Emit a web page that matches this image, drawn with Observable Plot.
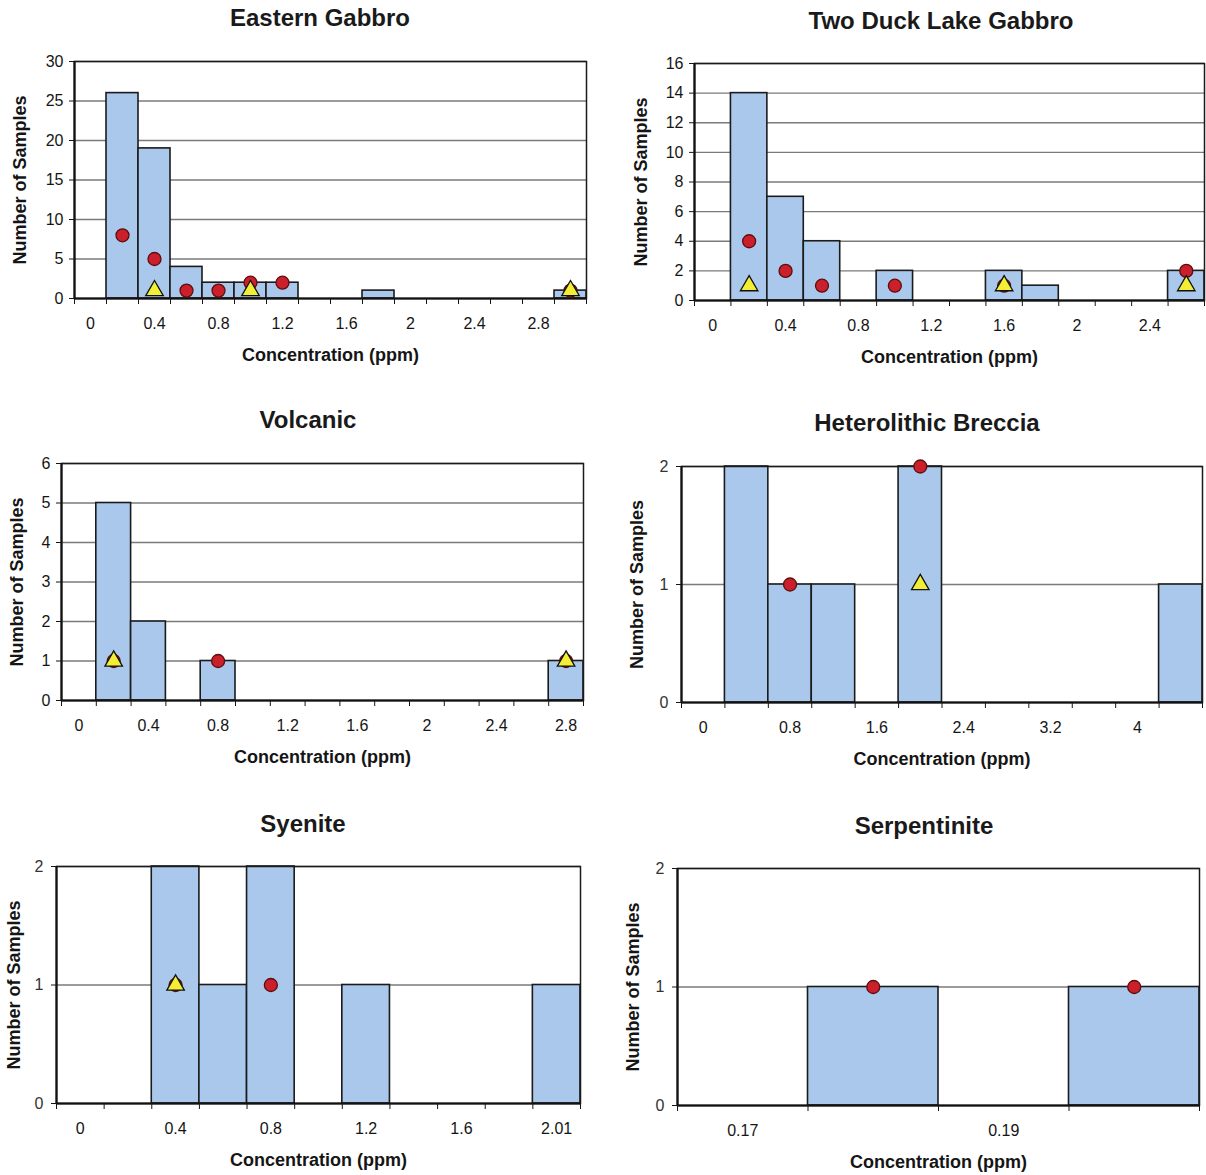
<!DOCTYPE html>
<html><head><meta charset="utf-8">
<script src="https://cdn.jsdelivr.net/npm/d3@7"></script>
<script src="https://cdn.jsdelivr.net/npm/@observablehq/plot@0.6"></script>
<style>
html,body{margin:0;padding:0;background:#fff;width:1206px;height:1175px;overflow:hidden;}
body{position:relative;font-family:"Liberation Sans",Arial,sans-serif;}
.panel{position:absolute;}
.panel svg{max-width:none !important;}
.title{position:absolute;font-weight:bold;font-size:24px;color:#1a1a1a;transform:translateX(-50%);white-space:nowrap;line-height:28px;}
</style></head><body>
<script>
// ---------- data ----------
// Eastern Gabbro
const egBins = ["0","0.2","0.4","0.6","0.8","1","1.2","1.4","1.6","1.8","2","2.2","2.4","2.6","2.8","3"];
const egCounts = [0,26,19,4,2,2,2,0,0,1,0,0,0,0,0,1];
const egCircles = [null,8,5,1,1,2,2,null,null,null,null,null,null,null,null,1];
const egTriangles = [null,null,1,null,null,1,null,null,null,null,null,null,null,null,null,1];
const egYTicks = [0,5,10,15,20,25,30];

// Two Duck Lake Gabbro
const tdBins = ["0","0.2","0.4","0.6","0.8","1","1.2","1.4","1.6","1.8","2","2.2","2.4","2.6"];
const tdCounts = [0,14,7,4,0,2,0,0,2,1,0,0,0,2];
const tdCircles = [null,4,2,1,null,1,null,null,1,null,null,null,null,2];
const tdTriangles = [null,1,null,null,null,null,null,null,1,null,null,null,null,1];
const tdYTicks = [0,2,4,6,8,10,12,14,16];

// Volcanic
const voBins = ["0","0.2","0.4","0.6","0.8","1","1.2","1.4","1.6","1.8","2","2.2","2.4","2.6","2.8"];
const voCounts = [0,5,2,0,1,0,0,0,0,0,0,0,0,0,1];
const voCircles = [null,1,null,null,1,null,null,null,null,null,null,null,null,null,1];
const voTriangles = [null,1,null,null,null,null,null,null,null,null,null,null,null,null,1];
const voYTicks = [0,1,2,3,4,5,6];

// Heterolithic Breccia
const hbBins = ["0","0.4","0.8","1.2","1.6","2","2.4","2.8","3.2","3.6","4","4.4"];
const hbCounts = [0,2,1,1,0,2,0,0,0,0,0,1];
const hbCircles = [null,null,1,null,null,2,null,null,null,null,null,null];
const hbTriangles = [null,null,null,null,null,1,null,null,null,null,null,null];
const hbYTicks = [0,1,2];

// Syenite
const syBins = ["0","0.2","0.4","0.6","0.8","1","1.2","1.4","1.6","1.8","2.01"];
const syCounts = [0,0,2,1,2,0,1,0,0,0,1];
const syCircles = [null,null,1,null,1,null,null,null,null,null,null];
const syTriangles = [null,null,1,null,null,null,null,null,null,null,null];
const syYTicks = [0,1,2];

// Serpentinite
const spBins = ["0.17","0.18","0.19","0.2"];
const spCounts = [0,1,0,1];
const spCircles = [null,1,null,1];
const spTriangles = [null,null,null,null];
const spYTicks = [0,1,2];

// ---------- layout ----------
const panels = [
  {title:"Eastern Gabbro", bins:egBins, counts:egCounts, circles:egCircles, triangles:egTriangles, yTicks:egYTicks,
   left:74, top:61, w:512, h:237, tx:320, ty:4, yOff:61, small:false},
  {title:"Two Duck Lake Gabbro", bins:tdBins, counts:tdCounts, circles:tdCircles, triangles:tdTriangles, yTicks:tdYTicks,
   left:694, top:63, w:510, h:237, tx:941, ty:7, yOff:60, small:false},
  {title:"Volcanic", bins:voBins, counts:voCounts, circles:voCircles, triangles:voTriangles, yTicks:voYTicks,
   left:61, top:463, w:522, h:237, tx:308, ty:406, yOff:51, small:false},
  {title:"Heterolithic Breccia", bins:hbBins, counts:hbCounts, circles:hbCircles, triangles:hbTriangles, yTicks:hbYTicks,
   left:681, top:466, w:521, h:236, tx:927, ty:409, yOff:51, small:true},
  {title:"Syenite", bins:syBins, counts:syCounts, circles:syCircles, triangles:syTriangles, yTicks:syYTicks,
   left:56, top:866, w:524, h:237, tx:303, ty:810, yOff:49, small:true},
  {title:"Serpentinite", bins:spBins, counts:spCounts, circles:spCircles, triangles:spTriangles, yTicks:spYTicks,
   left:677, top:868, w:522, h:237, tx:924, ty:812, yOff:51, small:true}
];

const mL = 75, mR = 10, mT = 14, mB = 80;

for (const p of panels) {
  const n = p.bins.length;
  const idx = d3.range(n);
  const bars = idx.filter(i => p.counts[i] > 0).map(i => ({i, v: p.counts[i]}));
  const circ = idx.filter(i => p.circles[i] != null).map(i => ({i, v: p.circles[i]}));
  const tri = idx.filter(i => p.triangles[i] != null).map(i => ({i, v: p.triangles[i]}));
  const labelPos = idx.filter(i => i % 2 === 0).map(i => i + 0.5);
  const yMax = p.yTicks[p.yTicks.length - 1];

  const chart = Plot.plot({
    width: mL + p.w + mR,
    height: mT + p.h + mB,
    marginLeft: mL, marginRight: mR, marginTop: mT, marginBottom: mB,
    x: {domain: [0, n]},
    y: {domain: [0, yMax]},
    style: {fontFamily: '"Liberation Sans", Arial, sans-serif', fontSize: "16px", color: "#151515", background: "transparent", overflow: "visible", maxWidth: "none"},
    marks: [
      Plot.gridY(p.yTicks, {stroke: "#7a7a7a", strokeOpacity: 1, strokeWidth: 1.3}),
      Plot.rectY(bars, {x1: "i", x2: d => d.i + 1, y: "v", fill: "#a9c8ec", stroke: "#1b1b1b", strokeWidth: 1.6}),
      Plot.frame({stroke: "#1a1a1a", strokeWidth: 1.5}),
      Plot.ruleY([0], {stroke: "#111", strokeWidth: 2.2}),
      Plot.ruleX([0], {stroke: "#111", strokeWidth: 2.2}),
      Plot.axisY(p.yTicks, {tickSize: 5, tickPadding: p.small ? 8 : 6,
        tickFormat: d => String(d),
        label: "Number of Samples", labelAnchor: "center", labelOffset: p.yOff, labelArrow: "none"}),
      Plot.axisX(d3.range(n + 1), {tickSize: 6, tickFormat: () => "", label: null}),
      Plot.axisX(labelPos, {tickSize: 0, tickPadding: 19,
        tickFormat: d => p.bins[Math.round(d - 0.5)],
        label: "Concentration (ppm)", labelAnchor: "center", labelOffset: 62, labelArrow: "none"}),
      Plot.dot(circ, {x: d => d.i + 0.5, y: "v", r: 6.5, fill: "#c9202b", stroke: "#5e0d0d", strokeWidth: 1.3}),
      Plot.dot(tri, {x: d => d.i + 0.5, y: "v", symbol: "triangle", r: 6.5, fill: "#f2ee36", stroke: "#111", strokeWidth: 1.3})
    ]
  });

  // axis text styling
  chart.querySelectorAll("text").forEach(t => {
    const s = t.textContent.trim();
    if (s === "Number of Samples" || s === "Concentration (ppm)") {
      t.style.fontWeight = "bold";
      t.style.fontSize = "18px";
      t.style.fill = "#151515";
    }
  });
  chart.querySelectorAll('g[aria-label="y-axis tick label"] text, g[aria-label="x-axis tick label"] text').forEach(t => {
    t.style.fontSize = "16px";
    if (p.small && t.closest('g[aria-label="y-axis tick label"]')) t.style.fill = "#333";
  });

  const div = document.createElement("div");
  div.className = "panel";
  div.style.left = (p.left - mL) + "px";
  div.style.top = (p.top - mT) + "px";
  div.style.width = (mL + p.w + mR) + "px";
  div.appendChild(chart);
  document.body.appendChild(div);

  const t = document.createElement("div");
  t.className = "title";
  t.textContent = p.title;
  t.style.left = p.tx + "px";
  t.style.top = p.ty + "px";
  document.body.appendChild(t);
}
</script>
</body></html>
